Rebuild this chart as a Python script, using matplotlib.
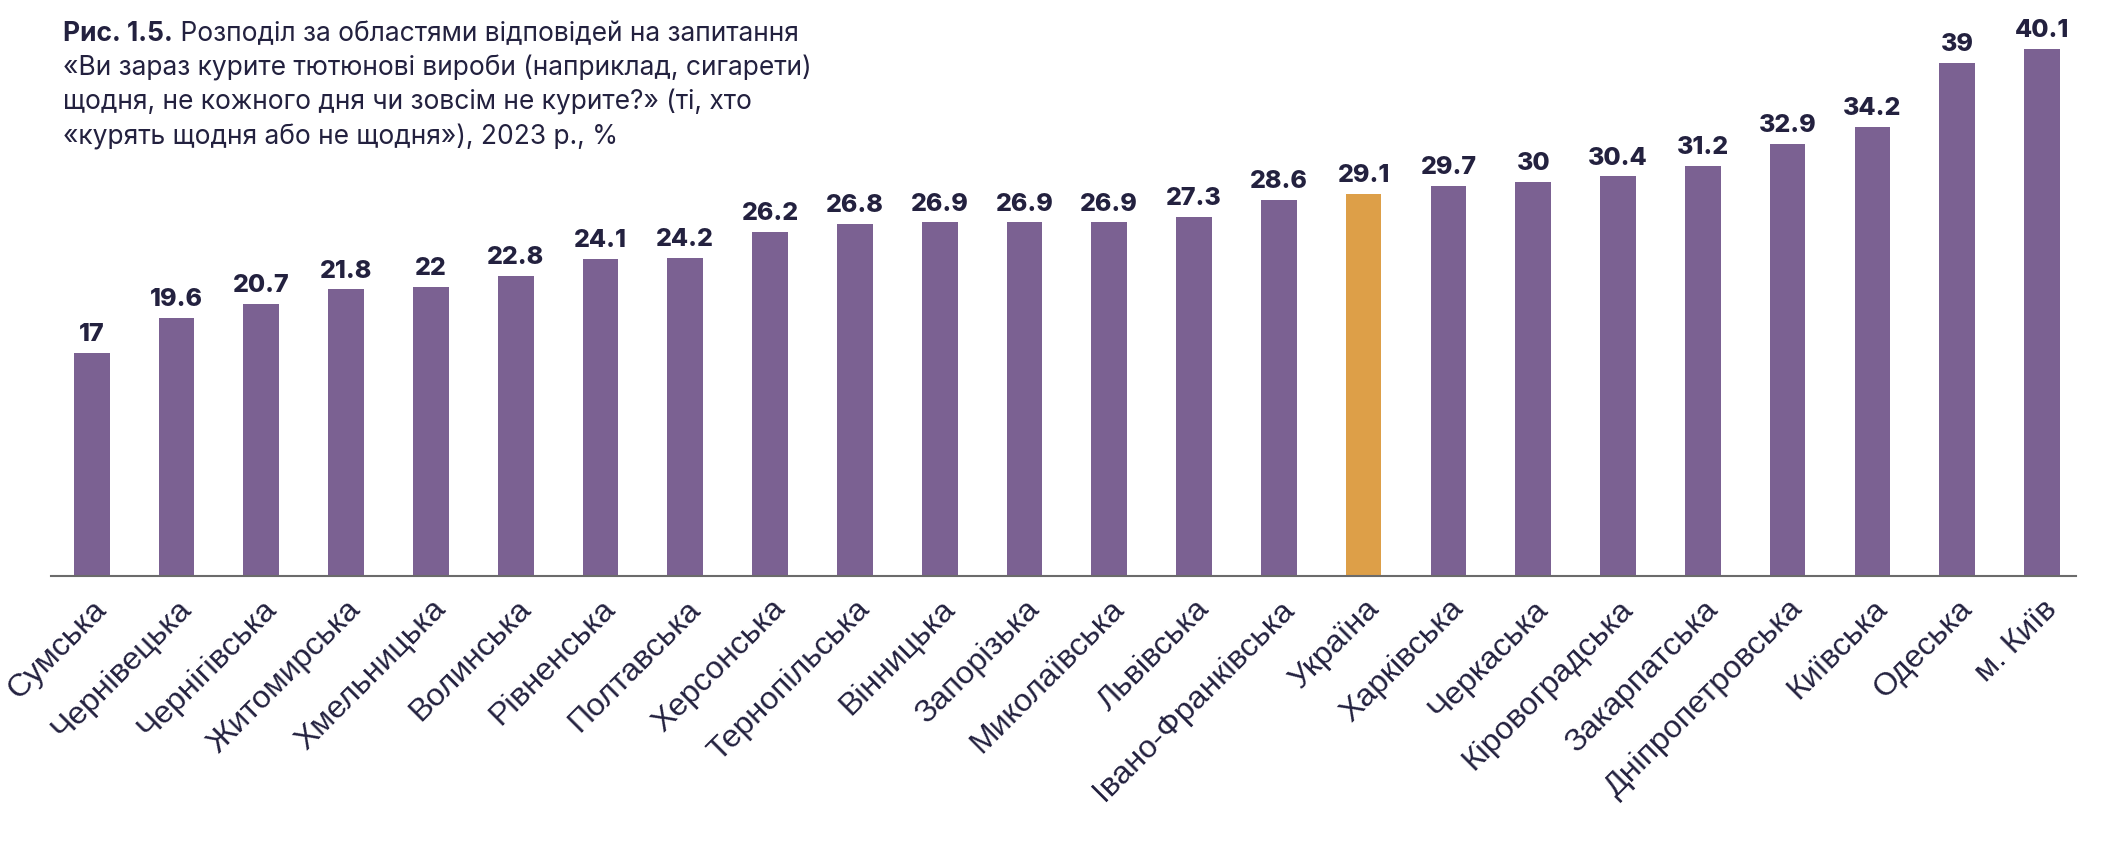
import matplotlib.pyplot as plt
import numpy as np

regions = ['Сумська', 'Чернівецька', 'Чернігівська', 'Житомирська', 'Хмельницька',
           'Волинська', 'Рівненська', 'Полтавська', 'Херсонська', 'Тернопільська',
           'Вінницька', 'Запорізька', 'Миколаївська', 'Львівська', 'Івано-Франківська',
           'Україна', 'Харківська', 'Черкаська', 'Кіровоградська', 'Закарпатська',
           'Дніпропетровська', 'Київська', 'Одеська', 'м. Київ']
values = [17, 19.6, 20.7, 21.8, 22, 22.8, 24.1, 24.2, 26.2, 26.8, 26.9, 26.9, 26.9,
          27.3, 28.6, 29.1, 29.7, 30, 30.4, 31.2, 32.9, 34.2, 39, 40.1]
labels = ['17', '19.6', '20.7', '21.8', '22', '22.8', '24.1', '24.2', '26.2', '26.8',
          '26.9', '26.9', '26.9', '27.3', '28.6', '29.1', '29.7', '30', '30.4', '31.2',
          '32.9', '34.2', '39', '40.1']

purple = '#7b6192'
orange = '#dd9f48'
navy = '#23213f'

fig = plt.figure(figsize=(21.14, 8.44), dpi=100)
ax = fig.add_axes([51/2114, 268/844, (2076-51)/2114, 552/844])

x = np.arange(len(regions))
colors = [orange if r == 'Україна' else purple for r in regions]
bars = ax.bar(x, values, width=0.42, color=colors)

for xi, v, lab in zip(x, values, labels):
    ax.annotate(lab, (xi, v), xytext=(0, 5), textcoords='offset points',
                ha='center', va='bottom', fontsize=18, fontweight='heavy',
                color=navy, family=['Inter', 'DejaVu Sans'])

ax.set_xlim(-0.48, 23.4)
ax.set_ylim(0, 42)
ax.set_xticks(x)
ax.set_xticklabels(regions, rotation=45, ha='right', rotation_mode='anchor',
                   fontsize=23, color=navy, family=['Liberation Sans', 'DejaVu Sans'])
ax.tick_params(axis='x', length=0, pad=13)
ax.set_yticks([])
for s in ['top', 'right', 'left']:
    ax.spines[s].set_visible(False)
ax.spines['bottom'].set_color('#6b6b6b')
ax.spines['bottom'].set_linewidth(1.5)

# title: bold prefix + regular text
tfont = ['Inter', 'DejaVu Sans']
tsize = 19
t1 = fig.text(63/2114, 1 - 34/844, 'Рис. 1.5.', fontsize=tsize, fontweight='bold',
              color=navy, va='center', ha='left', family=tfont)
fig.canvas.draw()
plt.annotate(' Розподіл за областями відповідей на запитання', xy=(1, 0),
             xycoords=t1, va='bottom', ha='left', fontsize=tsize, color=navy, family=tfont,
             annotation_clip=False)
rest = ['«Ви зараз курите тютюнові вироби (наприклад, сигарети)',
        'щодня, не кожного дня чи зовсім не курите?» (ті, хто',
        '«курять щодня або не щодня»), 2023 р., %']
for i, line in enumerate(rest):
    fig.text(63/2114, 1 - (68 + 34.5*i)/844, line, fontsize=tsize, color=navy,
             va='center', ha='left', family=tfont)

fig.savefig('out.png', dpi=100)
